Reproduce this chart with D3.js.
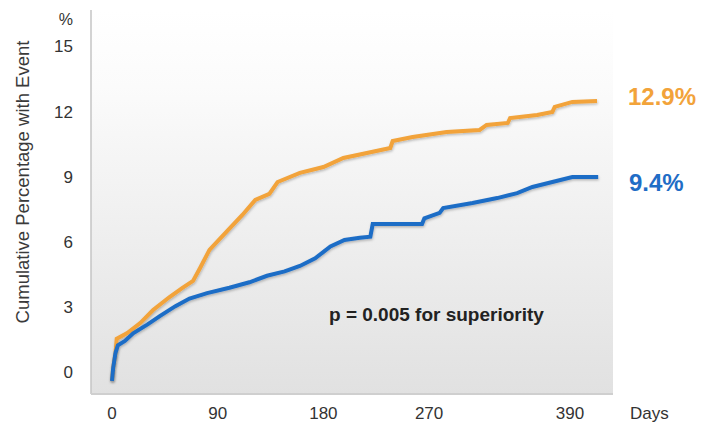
<!DOCTYPE html>
<html>
<head>
<meta charset="utf-8">
<script src="https://cdn.jsdelivr.net/npm/d3@7"></script>
<style>
  body { margin: 0; background: #fff; }
  text { font-family: "Liberation Sans", Arial, sans-serif; }
</style>
</head>
<body>
<script>
// Chart size
let svgWidth = 707;
let svgHeight = 434;

// Data: [days, cumulative %]
let blueSeries = [
  [0, 0], [1, 0.6], [3, 1.3], [5, 1.65], [11, 1.85], [18, 2.2], [30, 2.6],
  [41, 3.0], [54, 3.45], [66, 3.8], [81, 4.05], [100, 4.3], [117, 4.55],
  [132, 4.85], [147, 5.05], [160, 5.3], [173, 5.65], [186, 6.2], [198, 6.5],
  [211, 6.6], [220, 6.65], [222, 7.23], [264, 7.23], [266, 7.5], [279, 7.75],
  [282, 7.97], [307, 8.2], [328, 8.43], [345, 8.66], [358, 8.94], [375, 9.17],
  [392, 9.4], [414, 9.4]
];
let orangeSeries = [
  [0, 0], [1, 0.6], [3, 1.3], [4, 1.95], [13, 2.21], [24, 2.67], [35, 3.27],
  [49, 3.87], [60, 4.29], [69, 4.61], [75, 5.21], [83, 6.04], [98, 6.91],
  [111, 7.65], [122, 8.34], [134, 8.62], [141, 9.17], [160, 9.59], [180, 9.86],
  [197, 10.28], [217, 10.51], [237, 10.74], [239, 11.06], [256, 11.24],
  [285, 11.47], [313, 11.57], [319, 11.8], [337, 11.89], [339, 12.12],
  [362, 12.26], [375, 12.4], [377, 12.63], [392, 12.86], [413, 12.9]
];
let xTicks = [0, 90, 180, 270, 390];
let yTicks = [0, 3, 6, 9, 12, 15];
let endLabels = ["12.9%", "9.4%"];
let pText = "p = 0.005 for superiority";

let orange = "#f2a33a";
let blue = "#1f6dc6";

let svg = d3.select("body")
            .append("svg")
            .attr("width", svgWidth)
            .attr("height", svgHeight);

// Scales
let xScale = d3.scaleLinear().domain([0, 390]).range([112, 570]);
let yScale = d3.scaleLinear().domain([0, 15]).range([381, 55.5]);

// Plot background with vertical gradient
let defs = svg.append("defs");
let grad = defs.append("linearGradient")
               .attr("id", "bg").attr("x1", 0).attr("y1", 0).attr("x2", 0).attr("y2", 1);
grad.append("stop").attr("offset", "0%").attr("stop-color", "#ffffff");
grad.append("stop").attr("offset", "20%").attr("stop-color", "#fbfbfb");
grad.append("stop").attr("offset", "100%").attr("stop-color", "#e1e1e1");

let shadow = defs.append("filter").attr("id", "shadow")
                 .attr("x", "-5%").attr("y", "-5%").attr("width", "110%").attr("height", "110%");
shadow.append("feDropShadow").attr("dx", 0.5).attr("dy", 1.5)
      .attr("stdDeviation", 1).attr("flood-color", "#000").attr("flood-opacity", 0.25);

svg.append("rect")
   .attr("x", 91).attr("y", 10)
   .attr("width", 522).attr("height", 384)
   .attr("fill", "url(#bg)");

// axis lines
svg.append("line").attr("x1", 91).attr("x2", 91).attr("y1", 10).attr("y2", 394)
   .attr("stroke", "#c4c4c4").attr("stroke-width", 1.5);
svg.append("line").attr("x1", 91).attr("x2", 613).attr("y1", 394).attr("y2", 394)
   .attr("stroke", "#cfcfcf").attr("stroke-width", 2);

// y tick labels (text sits a bit higher than the curve scale in the original)
svg.append("g").selectAll("text")
   .data(yTicks)
   .enter()
   .append("text")
   .attr("x", 73)
   .attr("y", d => yScale(d) - 9)
   .attr("dy", "0.35em")
   .attr("text-anchor", "end")
   .attr("font-size", 17)
   .attr("fill", "#333")
   .text(d => d);

svg.append("text").attr("x", 73).attr("y", 19).attr("dy", "0.35em")
   .attr("text-anchor", "end").attr("font-size", 16).attr("fill", "#333").text("%");

// x tick labels
svg.append("g").selectAll("text")
   .data(xTicks)
   .enter()
   .append("text")
   .attr("x", d => xScale(d))
   .attr("y", 413)
   .attr("dy", "0.35em")
   .attr("text-anchor", "middle")
   .attr("font-size", 17)
   .attr("fill", "#333")
   .text(d => d);

svg.append("text").attr("x", 630).attr("y", 413).attr("dy", "0.35em")
   .attr("font-size", 17).attr("fill", "#333").text("Days");

// y axis title
svg.append("text")
   .attr("transform", "translate(23, 182) rotate(-90)")
   .attr("dy", "0.35em")
   .attr("text-anchor", "middle")
   .attr("font-size", 18.5)
   .attr("fill", "#3a3a3a")
   .text("Cumulative Percentage with Event");

// Curves
let line = d3.line()
             .x(d => xScale(d[0]))
             .y(d => yScale(d[1]));

svg.append("path").datum(orangeSeries)
   .attr("d", line).attr("fill", "none")
   .attr("stroke", orange).attr("stroke-width", 4)
   .attr("filter", "url(#shadow)");

svg.append("path").datum(blueSeries)
   .attr("d", line).attr("fill", "none")
   .attr("stroke", blue).attr("stroke-width", 4)
   .attr("filter", "url(#shadow)");

// End labels
svg.append("text").attr("x", 628).attr("y", 97).attr("dy", "0.35em")
   .attr("font-size", 24).attr("font-weight", "bold").attr("fill", orange)
   .text(endLabels[0]);
svg.append("text").attr("x", 629).attr("y", 183).attr("dy", "0.35em")
   .attr("font-size", 24).attr("font-weight", "bold").attr("fill", blue)
   .text(endLabels[1]);

// p-value
svg.append("text").attr("x", 329).attr("y", 314).attr("dy", "0.35em")
   .attr("font-size", 19).attr("font-weight", "bold").attr("fill", "#222")
   .text(pText);
</script>
</body>
</html>
